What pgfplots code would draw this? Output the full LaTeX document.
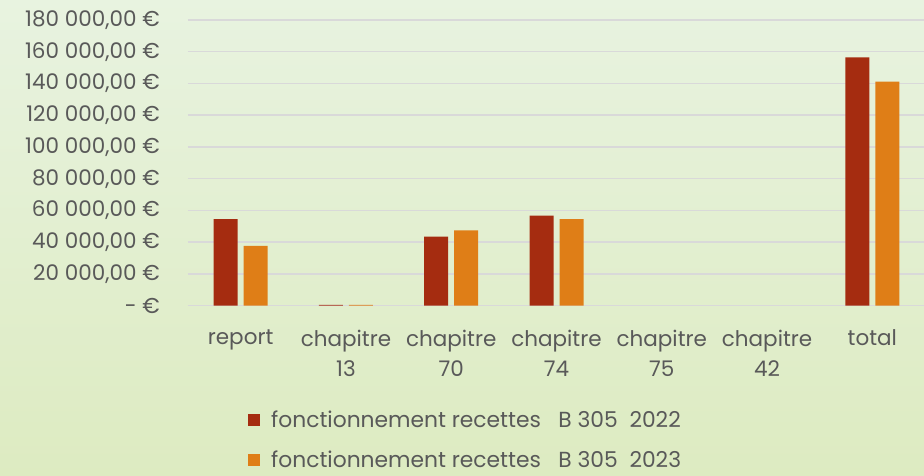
\documentclass[border=0pt]{standalone}
\usepackage{pgfplots}
\pgfplotsset{compat=1.18}
\usepackage{fontspec}
\setmainfont{Poppins}
\definecolor{bar22}{RGB}{165,44,16}
\definecolor{bar23}{RGB}{223,126,23}
\definecolor{txt}{RGB}{89,89,89}
\definecolor{gridc}{RGB}{217,217,217}
\definecolor{bgtop}{RGB}{232,243,224}
\definecolor{bgbot}{RGB}{221,235,193}

\begin{document}
\begin{tikzpicture}[x=1pt,y=1pt]
\shade[top color=bgtop, bottom color=bgbot] (0,0) rectangle (924,475);
\useasboundingbox (0,0) rectangle (924,475);
\begin{axis}[
  at={(188pt,169.3pt)}, anchor=south west,
  scale only axis, width=737pt, height=285.7pt,
  ybar=6pt, bar width=24pt,
  xmin=-0.5, xmax=6.5, ymin=0, ymax=180000,
  scaled y ticks=false,
  axis line style={draw=none}, major tick length=0pt,
  ymajorgrids, grid style={gridc, line width=1.5pt},
  xtick={0,...,6},
  xticklabels={report,{chapitre\\13},{chapitre\\70},{chapitre\\74},{chapitre\\75},{chapitre\\42},total},
  ytick={0,20000,...,180000},
  yticklabels={{- €},{20 000,00 €},{40 000,00 €},{60 000,00 €},{80 000,00 €},{100 000,00 €},{120 000,00 €},{140 000,00 €},{160 000,00 €},{180 000,00 €}},
  tick label style={font=\fontsize{21.5}{30}\selectfont, text=txt},
  xticklabel style={align=center, inner sep=0pt, yshift=-24pt},
  yticklabel style={inner sep=0pt, xshift=-28pt},
  legend style={at={(0.0814,-0.36)}, anchor=north west, draw=none, fill=none,
    font=\fontsize{21.8}{24}\selectfont, text=txt, row sep=18pt, column sep=9pt,
    inner sep=0pt},
  legend cell align=left,
  legend image code/.code={\fill[#1] (0pt,-6pt) rectangle (12pt,6pt);},
]
% the two empty chapters (75, 42) have no bars
\addplot[fill=bar22, draw=none] coordinates {
  (0,54600) (1,600) (2,43600) (3,56700) (6,156400)
};
\addplot[fill=bar23, draw=none] coordinates {
  (0,37700) (1,500) (2,47400) (3,54600) (6,141100)
};
\legend{fonctionnement recettes \ \ B 305 \ 2022, fonctionnement recettes \ \ B 305 \ 2023}
\end{axis}
\end{tikzpicture}
\end{document}
